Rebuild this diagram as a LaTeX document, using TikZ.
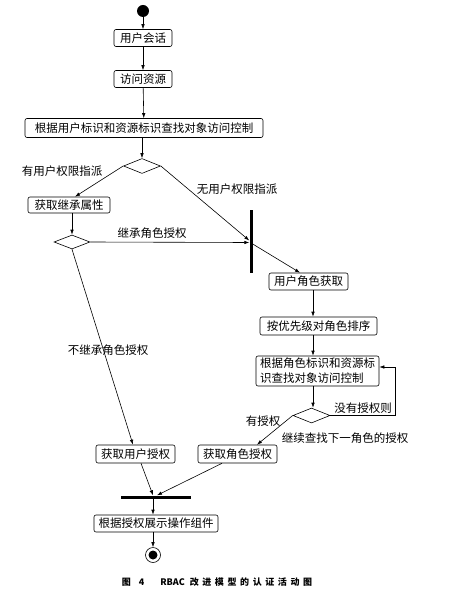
\documentclass[tikz,border=0pt]{standalone}
\usepackage{fontspec}
\newfontfamily\cjk{Noto Sans CJK SC}
\usetikzlibrary{shapes.geometric, arrows.meta, positioning, calc}

\begin{document}
\begin{tikzpicture}[x=1pt, y=-1pt, font=\cjk\fontsize{11.5}{15}\selectfont, >={Latex[length=5pt,width=3.5pt]},
    act/.style={draw, rounded corners=2pt, inner sep=0pt, minimum height=17pt, line width=0.6pt},
    choice/.style={draw, diamond, inner sep=0pt, minimum width=37pt, minimum height=15pt, line width=0.6pt},
    syncbar/.style={fill=black, inner sep=0pt},
    flow/.style={->, line width=0.6pt}]
    \useasboundingbox (0,0) rectangle (462,596);
    % start and actions
    \node[circle, fill, inner sep=0pt, minimum size=12pt] (start) at (143,11) {};
    \node[act, minimum width=58pt] (session) at (143,38) {用户会话};
    \node[act, minimum width=58pt] (access) at (143,79) {访问资源};
    \node[act, minimum width=238pt, minimum height=19pt] (lookup) at (144,128) {根据用户标识和资源标识查找对象访问控制};
    \node[choice] (hasuser) at (142,166) {};
    \node[act, minimum width=82pt, minimum height=16pt] (inherit) at (69,205) {获取继承属性};
    \node[choice, minimum width=36pt, minimum height=14pt] (inhchoice) at (72,242) {};
    \node[syncbar, minimum width=3pt, minimum height=63pt] (fork) at (251,241.5) {};
    \node[act, minimum width=79pt] (getrole) at (308.5,281.5) {用户角色获取};
    \node[act, minimum width=117pt, minimum height=18pt] (sortrole) at (318.5,326) {按优先级对角色排序};
    \node[act, minimum width=123pt, minimum height=30pt, align=left] (rolelookup) at (317.5,371) {根据角色标识和资源标\\识查找对象访问控制};
    \node[choice] (hasgrant) at (311.5,415.5) {};
    \node[act, minimum width=79pt, minimum height=18pt] (usergrant) at (135.5,454) {获取用户授权};
    \node[act, minimum width=79pt, minimum height=18pt] (rolegrant) at (237.5,454) {获取角色授权};
    \node[syncbar, minimum width=70pt, minimum height=3pt] (join) at (156,497) {};
    \node[act, minimum width=124pt] (show) at (156,523.5) {根据授权展示操作组件};
    \node[circle, draw, line width=0.6pt, inner sep=0pt, minimum size=15pt] (stop) at (153,555) {};
    \fill (stop) circle (4.5pt);
    \coordinate (spine) at (313,0);
    \coordinate (loop) at (395,0);
    \coordinate (mid) at (153,0);

    % labels
    \node (lbluser) at (62,171) {有用户权限指派};
    \node (lblnouser) at (237,189) {无用户权限指派};
    \node (lblinh) at (152,233) {继承角色授权};
    \node (lblnoinh) at (108,350) {不继承角色授权};
    \node (lblnogrant) at (363,408) {没有授权则};
    \node (lblgrant) at (263,421) {有授权};
    \node (lblnext) at (345,438) {继续查找下一角色的授权};

    % flows
    \draw[flow] (start) -- (session);
    \draw[flow] (session) -- (access);
    \draw[flow] (access) -- (lookup);
    \draw[flow] (lookup.south -| hasuser) -- (hasuser.north);
    \draw[flow] (hasuser.west) -- ([xshift=6pt]inherit.north);
    \draw[flow] (hasuser.east) -- ([yshift=1pt]fork.west);
    \draw[flow] (inherit.south -| inhchoice) -- (inhchoice.north);
    \draw[flow] (inhchoice.east) -- ([yshift=-1pt]fork.west);
    \draw[flow] (inhchoice.south) -- ([xshift=-2.5pt]usergrant.north);
    \draw[flow] ([yshift=-2.5pt]fork.east) -- ([xshift=-8.5pt]getrole.north);
    \draw[flow] (getrole.south -| spine) -- (sortrole.north -| spine);
    \draw[flow] (sortrole.south -| spine) -- (rolelookup.north -| spine);
    \draw[flow] (rolelookup.south -| spine) -- (hasgrant.north -| spine);
    \draw[flow] (hasgrant.east) -- (hasgrant.east -| loop) |- ([yshift=4pt]rolelookup.east);
    \draw[flow] (hasgrant.west) -- ([xshift=19.5pt]rolegrant.north);
    \draw[flow] ([xshift=5.5pt]usergrant.south) -- ([xshift=-3pt]join.north);
    \draw[flow] ([xshift=-15.5pt]rolegrant.south) -- ([xshift=1pt]join.north);
    \draw[flow] (join.south -| mid) -- (show.north -| mid);
    \draw[flow] (show.south -| mid) -- (stop.north);

    % caption
    \node[font=\cjk\bfseries\fontsize{9}{11}\selectfont] (caption) at (217,582) {图\hspace{8pt}4\hspace{16pt}RBAC\hspace{5pt}{\addfontfeatures{LetterSpace=40}改进模型的认证活动图}};
\end{tikzpicture}
\end{document}
